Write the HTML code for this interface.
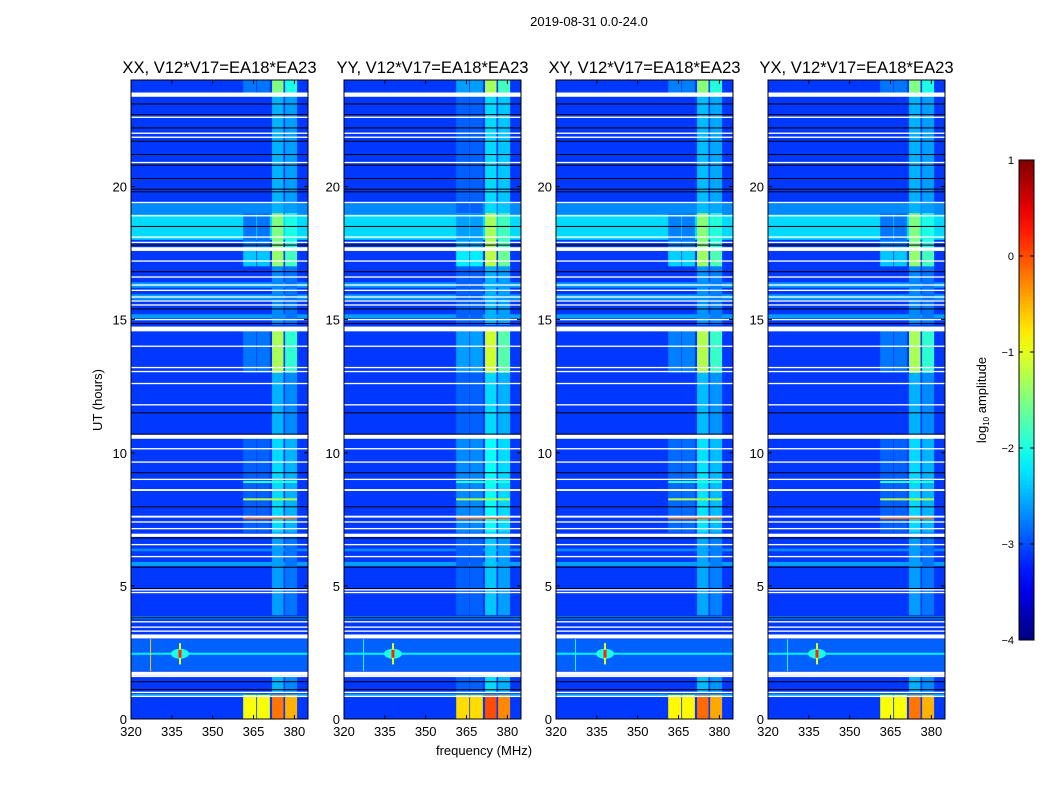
<!DOCTYPE html>
<html><head><meta charset="utf-8">
<style>
html,body{margin:0;padding:0;background:#fff;}
svg text{font-family:"Liberation Sans",sans-serif;}
</style></head>
<body>
<svg id="fig" width="1050" height="800" xmlns="http://www.w3.org/2000/svg">
<text x="589" y="26" font-size="13" text-anchor="middle">2019-08-31 0.0-24.0</text>
<text transform="translate(102,400) rotate(-90)" font-size="13" text-anchor="middle">UT (hours)</text>
<text x="484" y="755" font-size="13" text-anchor="middle">frequency (MHz)</text>
<g id="panels"></g>
<g id="cbar"></g>
</svg>
<script>
// ---- data ----
const panelTitles = ["XX, V12*V17=EA18*EA23","YY, V12*V17=EA18*EA23","XY, V12*V17=EA18*EA23","YX, V12*V17=EA18*EA23"];
const panelLefts = [131, 344, 556, 768];
const xTicks = [320, 335, 350, 365, 380];
const yTicks = [0, 5, 10, 15, 20];
const baseLevel = -3.1;
// background bands [startHour, endHour, log10 amp]
const bandStart = [18.0, 18.95, 15.75, 16.2, 5.75, 3.75, 2.7, 1.8, 0.85, 15.05, 6.3];
const bandEnd   = [18.95, 19.4, 15.95, 16.4, 5.9, 3.85, 2.8, 3.0, 0.95, 15.2, 6.4];
const bandLevel = [-2.3, -2.7, -2.6, -2.6, -2.6, -2.6, -2.6, -2.9, -2.6, -2.6, -2.7];
// RFI channels (MHz)
const chanLo = [361.2, 366.3, 371.8, 376.6];
const chanHi = [366.0, 371.0, 376.0, 381.0];
// RFI time segments and levels per channel
const segStart = [0.0, 1.0, 3.9, 7.0, 10.6, 13.0, 14.8, 17.0, 17.7, 19.0, 23.4];
const segEnd   = [0.9, 1.7, 7.0, 10.6, 13.0, 14.7, 17.0, 17.7, 19.0, 23.4, 24.0];
const segCh1   = [-0.9, -3.1, -3.1, -2.9, -3.1, -2.8, -3.1, -2.4, -2.8, -3.1, -2.8];
const segCh2   = [-0.9, -3.1, -3.1, -2.9, -3.1, -2.8, -3.1, -2.4, -2.8, -3.1, -2.8];
const segCh3   = [-0.2, -2.5, -2.6, -2.3, -2.5, -1.3, -2.7, -1.4, -1.5, -2.5, -1.5];
const segCh4   = [-0.5, -2.7, -2.8, -2.5, -2.7, -1.9, -2.8, -1.8, -2.0, -2.6, -2.0];
const panelBoost = [0, 0.2, 0.05, 0.0];
// narrow spectral lines across RFI channels [hour, level]
const lineHour  = [7.55, 8.25, 8.9];
const lineLevel = [-0.1, -1.2, -1.9];
// point source
const srcFreq = 338, srcHour = 2.45, srcLevel = 0.2;
// flagged (white) rows [hour, thickness in hours]
const flagHour = [23.45,22.6,22.0,21.85,20.9,19.4,18.9,18.1,17.9,17.65,17.2,16.6,16.3,16.1,15.85,15.7,15.55,15.0,14.65,14.0,13.2,13.05,12.6,11.8,10.6,10.15,9.65,9.0,8.6,7.6,7.4,7.15,6.9,6.55,6.1,4.85,4.75,3.65,3.45,3.3,3.1,1.7,1.6,1.0,0.85];
const flagSize = [0.16,0.05,0.05,0.05,0.05,0.05,0.05,0.05,0.05,0.14,0.05,0.05,0.05,0.05,0.05,0.05,0.05,0.05,0.18,0.05,0.05,0.05,0.05,0.05,0.15,0.05,0.05,0.05,0.07,0.07,0.05,0.05,0.12,0.05,0.05,0.05,0.05,0.05,0.05,0.05,0.15,0.15,0.05,0.05,0.05];
// black (zero) rows
const blackHour = [23.1,22.7,22.2,21.7,21.2,20.8,20.3,19.9,19.8,18.5,17.8,16.8,15.4,14.85,11.5,10.7,9.25,7.97,6.8,5.7,4.9,3.8,1.4,1.1];
const cbTicks = [1, 0, -1, -2, -3, -4];

// ---- helpers ----
const NS = "http://www.w3.org/2000/svg";
const W = 177, TOP = 80, BOT = 719;
function jet(v){
  let t = Math.max(0, Math.min(1, (v + 4) / 5));
  const c = x => Math.round(255 * Math.max(0, Math.min(1, x)));
  return `rgb(${c(1.5-Math.abs(4*t-3))},${c(1.5-Math.abs(4*t-2))},${c(1.5-Math.abs(4*t-1))})`;
}
function mk(tag, attrs, parent){
  const e = document.createElementNS(NS, tag);
  for (const k in attrs) e.setAttribute(k, attrs[k]);
  parent.appendChild(e); return e;
}
const yS = h => BOT - (h / 24) * (BOT - TOP);
const panelsG = document.getElementById('panels');
const segCh = [segCh1, segCh2, segCh3, segCh4];

panelLefts.forEach((L, p) => {
  const xS = f => L + (f - 320) / 65 * W;
  const g = mk('g', {}, panelsG);
  
  
  const t = mk('text', {x: L + W/2, y: 73, 'font-size': 16.6, 'text-anchor': 'middle'}, g);
  t.textContent = panelTitles[p];
  
  
  const base = mk('rect', {x: L, y: TOP, width: W, height: BOT - TOP, fill: jet(baseLevel)}, g);
  
  
  bandStart.forEach((s, i) => {
    const r = mk('rect', {x: L, y: yS(bandEnd[i]), width: W, height: yS(s) - yS(bandEnd[i]), fill: jet(bandLevel[i])}, g);
    
    
  });
  chanLo.forEach((lo, c) => {
    segStart.forEach((s, i) => {
      const lv = segCh[c][i] + panelBoost[p];
      if (lv <= baseLevel + 0.05) return;
      const r = mk('rect', {x: xS(lo), y: yS(segEnd[i]), width: xS(chanHi[c]) - xS(lo), height: yS(s) - yS(segEnd[i]), fill: jet(lv)}, g);
      
      
    });
  });
  lineHour.forEach((h, i) => {
    const r = mk('rect', {x: xS(chanLo[0]), y: yS(h) - 1, width: xS(chanHi[3]) - xS(chanLo[0]), height: 2, fill: jet(lineLevel[i])}, g);
    
    
  });
  const hs = mk('rect', {x: L, y: yS(srcHour) - 1, width: W, height: 2, fill: jet(-2.2)}, g);
  
  
  const halo = mk('ellipse', {cx: xS(srcFreq), cy: yS(srcHour), rx: 9, ry: 5, fill: jet(-2.0)}, g);
  
  
  const vs = mk('rect', {x: xS(srcFreq) - 1, y: yS(srcHour + 0.4), width: 2, height: yS(srcHour - 0.4) - yS(srcHour + 0.4), fill: jet(-1.0)}, g);
  
  
  const core = mk('rect', {x: xS(srcFreq) - 1.5, y: yS(srcHour + 0.15), width: 3, height: yS(srcHour - 0.15) - yS(srcHour + 0.15), fill: jet(srcLevel)}, g);
  
  
  const vl = mk('rect', {x: xS(327), y: yS(3.0), width: 1, height: yS(1.8) - yS(3.0), fill: p === 0 ? jet(-0.6) : jet(-2.0)}, g);
  
  
  blackHour.forEach(h => {
    const r = mk('rect', {x: L, y: yS(h) - 0.5, width: W, height: 1, fill: '#000'}, g);
    
    
  });
  flagHour.forEach((h, i) => {
    const hh = Math.max(1.3, yS(h - flagSize[i]/2) - yS(h + flagSize[i]/2));
    const r = mk('rect', {x: L, y: yS(h) - hh/2, width: W, height: hh, fill: '#fff'}, g);
    
    
  });
  const fr = mk('rect', {x: L, y: TOP, width: W, height: BOT - TOP, fill: 'none', stroke: '#000', 'stroke-width': 1}, g);
  
  
  xTicks.forEach(v => {
    const x = xS(v);
    mk('line', {x1: x, x2: x, y1: BOT, y2: BOT - 4, stroke: '#000'}, g);
    mk('line', {x1: x, x2: x, y1: TOP, y2: TOP + 4, stroke: '#000'}, g);
    const tt = mk('text', {x: x, y: BOT + 17, 'font-size': 13, 'text-anchor': 'middle'}, g);
    tt.textContent = v;
    
    
  });
  yTicks.forEach(v => {
    const y = yS(v);
    mk('line', {x1: L, x2: L + 4, y1: y, y2: y, stroke: '#000'}, g);
    mk('line', {x1: L + W, x2: L + W - 4, y1: y, y2: y, stroke: '#000'}, g);
    const tt = mk('text', {x: L - 4, y: y + 5, 'font-size': 13, 'text-anchor': 'end'}, g);
    tt.textContent = v;
    
    
  });
});

// ---- colorbar ----
const cb = document.getElementById('cbar');
const CBX = 1019, CBW = 15, CBT = 160, CBB = 640;
const cy = v => CBB - (v + 4) / 5 * (CBB - CBT);
const defs = mk('defs', {}, cb);
const grad = mk('linearGradient', {id: 'jetg', x1: 0, y1: 1, x2: 0, y2: 0}, defs);
for (let i = 0; i <= 20; i++) mk('stop', {offset: i/20, 'stop-color': jet(-4 + i/4)}, grad);
const cbr = mk('rect', {x: CBX, y: CBT, width: CBW, height: CBB - CBT, fill: 'url(#jetg)', stroke: '#000', 'stroke-width': 1}, cb);


cbTicks.forEach(v => {
  const y = cy(v);
  mk('line', {x1: CBX, x2: CBX + 4, y1: y, y2: y, stroke: '#000'}, cb);
  mk('line', {x1: CBX + CBW, x2: CBX + CBW - 4, y1: y, y2: y, stroke: '#000'}, cb);
  const tt = mk('text', {x: CBX - 5, y: y + 4, 'font-size': 11, 'text-anchor': 'end'}, cb);
  tt.textContent = v < 0 ? '\u2212' + Math.abs(v) : v;
  
  
});
const cl = mk('text', {transform: 'translate(986,400) rotate(-90)', 'font-size': 13, 'text-anchor': 'middle'}, cb);
cl.innerHTML = 'log<tspan font-size="8" dy="3">10</tspan><tspan dy="-3"> amplitude</tspan>';


</script>
</body></html>
